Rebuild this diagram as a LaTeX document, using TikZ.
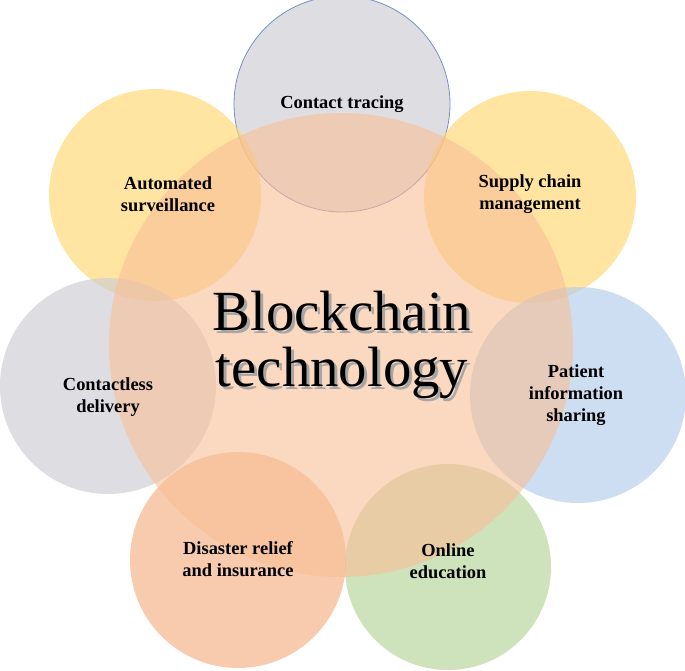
\documentclass[tikz,border=0pt]{standalone}
\usepackage{fontspec}
\setmainfont{Liberation Serif}
\definecolor{cOr}{RGB}{248,190,150}
\definecolor{cYe}{RGB}{255,215,110}
\definecolor{cGr}{RGB}{205,205,210}
\definecolor{cBl}{RGB}{180,205,235}
\definecolor{cGn}{RGB}{180,210,150}
\definecolor{cDs}{RGB}{245,175,130}
\definecolor{cEdge}{RGB}{120,140,200}
\begin{document}
\begin{tikzpicture}[x=1bp,y=-1bp,
  bub/.style={circle,minimum size=#1,inner sep=0pt,fill opacity=0.65,text opacity=1,align=center},
  lbl/.style={align=center,font=\bfseries\fontsize{18.5}{22}\selectfont}]
\useasboundingbox (0,0) rectangle (685,671);
\node[bub=216bp,fill=cGr,draw=cEdge,thick] (ct) at (342,104) {};
\node[bub=212bp,fill=cYe] (as) at (155,195) {};
\node[bub=212bp,fill=cYe] (sc) at (530,197) {};
\node[bub=216bp,fill=cGr] (cd) at (108,386) {};
\node[bub=216bp,fill=cBl] (pi) at (578,395) {};
\node[bub=206bp,fill=cGn] (oe) at (448,567) {};
\node[bub=216bp,fill=cDs] (dr) at (238,560) {};
\node[circle,minimum size=464bp,inner sep=0pt,fill=cOr,fill opacity=0.6] (bc) at (341,345) {};
\node[lbl] at (ct.center) {Contact tracing};
\node[lbl] at (as.center) [xshift=13bp,yshift=1bp] {Automated\\surveillance};
\node[lbl] at (sc.center) [yshift=3bp] {Supply chain\\management};
\node[lbl] at (cd.center) [yshift=-11bp] {Contactless\\delivery};
\node[lbl] at (pi.center) [xshift=-2bp] {Patient\\information\\sharing};
\node[lbl] at (oe.center) [yshift=6bp] {Online\\education};
\node[lbl] at (dr.center) [yshift=1bp] {Disaster relief\\and insurance};
\node[align=center,font=\fontsize{57}{56}\selectfont,text=gray!70] at (345,348) {Blockchain\\technology};
\node[align=center,font=\fontsize{57}{56}\selectfont] (t) at (342,345) {Blockchain\\technology};
\end{tikzpicture}
\end{document}
